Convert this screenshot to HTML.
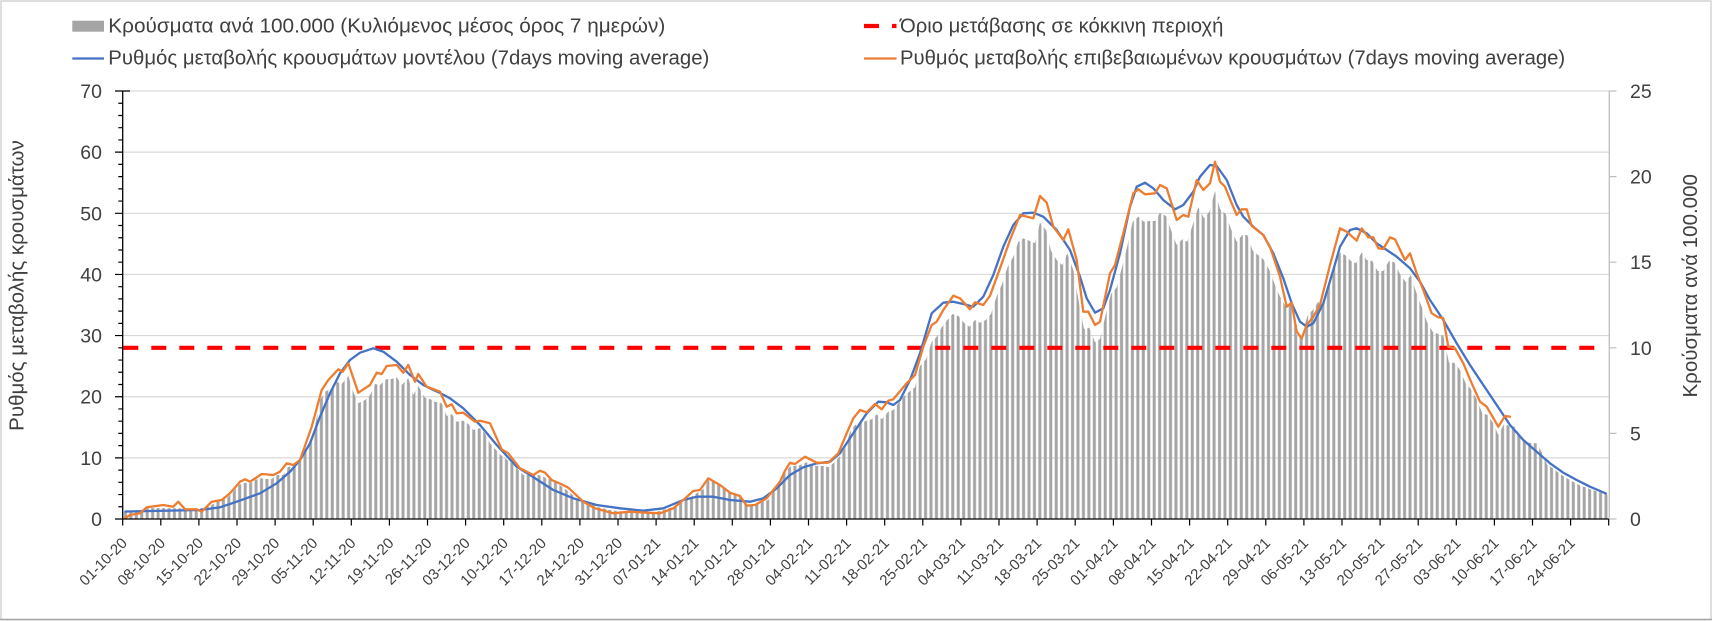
<!DOCTYPE html>
<html>
<head>
<meta charset="utf-8">
<style>
  html,body{margin:0;padding:0;background:#ffffff;}
  svg{display:block;}
  text{font-family:"Liberation Sans","DejaVu Sans",sans-serif;fill:#404040;}
</style>
</head>
<body>
<svg width="1712" height="621" viewBox="0 0 1712 621" xmlns="http://www.w3.org/2000/svg">
  <defs>
    <pattern id="bars" patternUnits="userSpaceOnUse" x="122.7" y="0" width="5.4432" height="621">
      <rect x="1.22" y="0" width="3" height="621" fill="#a5a5a5"/>
    </pattern>
  </defs>
  <rect x="0" y="0" width="1712" height="621" fill="#ffffff"/>
  <!-- chart border -->
  <rect x="1" y="1" width="1710" height="618.5" fill="none" stroke="#d4d4d4" stroke-width="1.5"/>
  <line x1="0" y1="619.5" x2="1712" y2="619.5" stroke="#a6a6a6" stroke-width="1.5"/>

  <!-- gridlines -->
  <g stroke="#d9d9d9" stroke-width="1.2">
    <line x1="122.7" y1="457.86" x2="1609.3" y2="457.86"/>
    <line x1="122.7" y1="396.72" x2="1609.3" y2="396.72"/>
    <line x1="122.7" y1="335.58" x2="1609.3" y2="335.58"/>
    <line x1="122.7" y1="274.44" x2="1609.3" y2="274.44"/>
    <line x1="122.7" y1="213.30" x2="1609.3" y2="213.30"/>
    <line x1="122.7" y1="152.16" x2="1609.3" y2="152.16"/>
    <line x1="122.7" y1="91.02" x2="1609.3" y2="91.02"/>
  </g>

  <!-- bars -->
  <polygon fill="url(#bars)" points="122.7,519 122.7,512 140,511.5 145,508 200,508.5 210,506 216.7,501.7 228.3,496.7 233.3,491.7 238.3,485 245,482.7 250,483.3 255,480 260,478.3 266.7,479 271.7,479 276.7,475 283.3,475 288.3,466.7 293.3,466.7 300,461.7 305,451.7 310,445 315,426.7 320,400 325,391.7 331.7,388.3 336.7,381.7 341.7,384 348.3,376 353.3,391.7 358.3,403.3 365,400 370,395 375,384 380,385 386.7,379 391.7,379 396.7,377.3 401.7,385 408.3,378.3 413.3,395 418.3,386 425,397.7 430,399 435,401.7 441.7,403.3 446.7,416 451.7,414 456.7,421.7 463.3,420.7 468.3,424 473.3,430 480,428.3 485,433.3 490,443.3 500.7,455 511.7,463.3 523.3,475 538.3,475 543.3,476.7 555,481.7 566.7,490 576.7,498.3 586.7,501.7 596.7,506.7 610,510 630,512.7 650,513.3 663.3,510 673.3,506.7 686.7,500 696.7,493.3 703.3,489.3 708.3,480 713.3,481.7 720,485 730,491.7 740,495 746.7,505 756.7,505 763.3,501.7 768.3,500 776.7,485 783.3,473.3 790,466.7 800,465 806.7,462.3 816.7,466 823.3,466 828.3,467.3 833.3,463.3 838.3,458.3 845,448.3 850,431.7 855,425 860,423.3 866.7,420.7 871.7,419.3 876.7,414.3 881.7,419.3 888.3,411.7 893.3,410 898.3,403.3 903.3,396.7 909.3,391.7 915,387.3 920,366 926,359.3 931.7,341.7 936.7,336.7 941.7,327.3 947.3,320 952.7,314 958.3,316 964,322.7 969.3,326.7 975,320 980,322.7 985.7,320 991,314 996.7,296 1001.7,285 1007.7,266.7 1013.3,256.7 1018.3,242 1023.3,238.3 1029.3,240.7 1035,243.3 1040,222.7 1046,230 1051,250.7 1056.7,260 1062.3,265 1067.3,253.3 1073.3,270 1078.3,299 1084,329 1089.3,327.7 1095,342.3 1100,339 1106,313.3 1111,294 1116.7,287.3 1121.7,268.3 1127.3,246 1132.7,221.7 1138.3,216.7 1144,221.7 1149.3,221 1155,221 1160,212.7 1166,216 1171,230 1176.7,245 1182.3,239.3 1187.3,241.7 1193.3,222.7 1198.3,207.3 1204,218.3 1209.3,211.7 1215,191 1220,209 1225.7,214 1231,229 1236.7,241.7 1242.3,235 1247.3,235 1252.7,250.7 1258,255 1263.3,259.3 1269.3,270 1275,285 1280,296.7 1286,306.7 1291,301.7 1296.7,335 1301.7,336.7 1307.3,316 1312.7,310 1318.3,301.7 1323.3,305 1329,286 1334.3,266.7 1340,252.3 1345,255 1350.7,260.7 1356,263.3 1361.7,252.3 1366.7,260 1372.3,261 1377.7,271 1383.3,271 1389,261 1394.3,262.3 1400,274 1405.7,282 1411,275 1416,291.7 1421.7,306.7 1427.3,322.7 1432.7,331.7 1438.3,334 1443.3,335.7 1449,362.7 1454.3,362.7 1460,370 1465.7,383.3 1471,389.3 1476.7,399.3 1482.3,413.3 1487.7,415 1493.3,423.3 1498.3,435 1504,424 1509.3,426 1515,426.7 1520.7,436.7 1526,441.7 1531.7,443.3 1536.7,443.3 1542.3,453.3 1547.3,465 1553.3,468.3 1559,473.3 1564.3,476.7 1570,480 1575.7,483.3 1581,486 1586.7,487.7 1592.3,490 1597.7,491.7 1603.3,493.3 1608,495 1608,519"/>

  <!-- threshold -->
  <line x1="123.3" y1="347.8" x2="1605.9" y2="347.8" stroke="#ff0000" stroke-width="4.2" stroke-dasharray="15 13"/>

  <!-- model line -->
  <polyline fill="none" stroke="#4472c4" stroke-width="2.3" stroke-linejoin="round" stroke-linecap="round" points="125.4,511.5 200,510 220,507.3 236.7,501.7 260,493.3 276.7,483.3 290,471.7 300,460 310,443.3 320,416.7 330,393.3 340,373.3 350,360 360,352.7 373.3,348.3 383.3,351.7 396.7,361.7 410,375 423.3,385 430,388.3 440,393 450,398.3 463.3,408.3 480,425 496.7,445 516.7,466.7 530,475 553.3,490 573.3,498.3 596.7,505 620,508.3 643.3,510.7 663.3,508.3 683.3,500 696.7,496.7 713.3,496.7 730,500 750,501.7 763.3,498.3 776.7,488.3 790,475 803.3,467.3 816.7,463.3 830,461.7 840,453.3 853.3,433.3 866.7,413.3 878.3,401.7 886.7,402.3 893.3,405 900,400 910,380 920,353.3 931.7,313.3 943.3,302.7 953.3,301.7 963.3,304 973.3,306.7 983.3,296.7 993.3,275 1003.3,246.7 1013.3,225 1023.3,213.3 1033.3,212.7 1043.3,216.7 1056.7,230 1070,250 1080,276.7 1086.7,298.3 1095,312.7 1103.3,308.3 1110,290 1120,253.3 1130,206.7 1136.7,186.7 1145,182.7 1153.3,188.3 1163.3,200 1175,209.3 1183.3,205 1193.3,191.7 1200,176.7 1210,165 1216.7,166 1226.7,180 1236.7,205 1243.3,216.7 1253.3,226.7 1263.3,235 1273.3,253.3 1283.3,278.3 1291.7,303.3 1300,321.7 1306.7,326.7 1313.3,323.3 1323.3,303.3 1333.3,270 1340,246.7 1350,230 1356.7,228.3 1366.7,233.3 1376.7,243.3 1386.7,250 1396.7,256.7 1410,268.3 1420,281.7 1430,300 1443.3,320 1456.7,343.3 1470,365 1483.3,385 1496.7,405 1510,425 1523.3,440 1536.7,451.7 1550,463.3 1563.3,472.7 1576.7,480 1590,486.7 1605.9,493.5"/>

  <!-- confirmed line -->
  <polyline fill="none" stroke="#ed7d31" stroke-width="2.3" stroke-linejoin="round" stroke-linecap="round" points="125.4,518 130,515 140,513.3 146.7,507.3 163.3,505 173.3,506.7 178.3,501.7 185,509.3 196.7,509.3 201.7,511.7 211.7,501.7 221.7,500 230,493.3 240,481.7 245,479.3 250,481.7 261.7,474 273.3,475 280,471.7 286.7,463.3 293.3,465 300,460 311.7,426.7 321.7,390 328.3,380 338.3,369.3 342.7,371.7 348.3,363.3 358.3,392.7 370,385 376.7,372.7 381.7,374 386.7,366 396.7,365 403.3,372.7 408.3,365 415,381.7 418.3,374 426.7,386.7 433,389 440,391.7 446.7,406.7 451.7,404.3 456.7,413.3 463.3,412.7 475,421.7 480,420.7 490,423.3 501.7,449.3 508.3,453.3 520,468.3 533.3,475 540,470.7 545,472.7 551.7,480 561.7,484.3 568.3,487.7 583.3,501.7 595,508.3 613.3,513.3 630,511.7 646.7,512.7 660,513.3 673.3,508.3 683.3,500 693.3,491 700,490 708.3,478.3 720,485 730,492.7 740,496 746.7,505.7 755,505 766.7,498.3 780,481.7 785,470.7 790,462.7 795,464 805,456.7 816.7,462.7 828.3,462.7 838.3,453.3 846.7,433.3 853.3,418.3 860,410 866.7,412.3 875,404 881.7,409.3 888.3,400.7 893.3,399.3 906.7,383.3 915,375 923.3,346.7 931.7,325 936.7,321.7 943.3,310 953.3,295.7 960,298.3 970,309.3 975,302.3 983.3,305 990,295.7 1000,268.3 1010,240 1020,215 1033.3,218.3 1040,196 1046.7,202.7 1053.3,226.7 1063.3,240 1068.3,229.3 1076.7,260 1083.3,311.7 1088.3,311.7 1095,325 1100,321.7 1110,273.3 1115,265 1123.3,233.3 1133.3,193.3 1138.3,189.3 1145,194.3 1155,193.3 1160,185 1166.7,188.3 1176.7,220 1183.3,215 1188.3,216.7 1196.7,180 1203.3,190 1210,183.3 1215,161.7 1220,181.7 1225,186.7 1231.7,203.3 1236.7,215 1241.7,209.3 1246.7,209.3 1251.7,226 1263.3,235 1270,246.7 1280,276.7 1286.7,306.7 1291.7,302.7 1296.7,331.7 1301.7,338.3 1306.7,325 1313.3,316.7 1320,305 1330,265 1340,228.3 1346.7,231.7 1356.7,240.7 1361.7,228.3 1368.3,237.3 1373.3,237.3 1378.3,248.3 1383.3,249 1390,237.3 1395,239.3 1405,260 1410,253.3 1416.7,273.3 1423.3,290 1431.7,313.3 1438.3,317.3 1443.3,318.3 1448.3,346.7 1455,348.3 1463.3,363.3 1471.7,383.3 1480,401.7 1486.7,406.7 1498.3,426.7 1505,416 1510,416.7"/>

  <!-- axes -->
  <line x1="122.7" y1="91" x2="122.7" y2="519" stroke="#000" stroke-width="1.3"/>
  <line x1="122.7" y1="519" x2="1609.3" y2="519" stroke="#000" stroke-width="1.3"/>
  <line x1="1609.3" y1="91" x2="1609.3" y2="519" stroke="#bfbfbf" stroke-width="1.3"/>
  <path stroke="#000" stroke-width="1.2" fill="none" d="M115 519H122.7 M118.3 506.77H122.7 M118.3 494.54H122.7 M118.3 482.32H122.7 M118.3 470.09H122.7 M115 457.86H122.7 M118.3 445.63H122.7 M118.3 433.40H122.7 M118.3 421.18H122.7 M118.3 408.95H122.7 M115 396.72H122.7 M118.3 384.49H122.7 M118.3 372.26H122.7 M118.3 360.04H122.7 M118.3 347.81H122.7 M115 335.58H122.7 M118.3 323.35H122.7 M118.3 311.12H122.7 M118.3 298.90H122.7 M118.3 286.67H122.7 M115 274.44H122.7 M118.3 262.21H122.7 M118.3 249.98H122.7 M118.3 237.76H122.7 M118.3 225.53H122.7 M115 213.30H122.7 M118.3 201.07H122.7 M118.3 188.84H122.7 M118.3 176.62H122.7 M118.3 164.39H122.7 M115 152.16H122.7 M118.3 139.93H122.7 M118.3 127.70H122.7 M118.3 115.48H122.7 M118.3 103.25H122.7 M115 91.02H130"/>
  <path stroke="#000" stroke-width="1.2" fill="none" d="M122.7 519V525.5 M160.8 519V525.5 M198.9 519V525.5 M237.0 519V525.5 M275.1 519V525.5 M313.2 519V525.5 M351.3 519V525.5 M389.4 519V525.5 M427.5 519V525.5 M465.6 519V525.5 M503.7 519V525.5 M541.8 519V525.5 M579.9 519V525.5 M618.0 519V525.5 M656.1 519V525.5 M694.2 519V525.5 M732.3 519V525.5 M770.4 519V525.5 M808.5 519V525.5 M846.6 519V525.5 M884.7 519V525.5 M922.8 519V525.5 M960.9 519V525.5 M999.0 519V525.5 M1037.1 519V525.5 M1075.2 519V525.5 M1113.4 519V525.5 M1151.5 519V525.5 M1189.6 519V525.5 M1227.7 519V525.5 M1265.8 519V525.5 M1303.9 519V525.5 M1342.0 519V525.5 M1380.1 519V525.5 M1418.2 519V525.5 M1456.3 519V525.5 M1494.4 519V525.5 M1532.5 519V525.5 M1570.6 519V525.5 M1608.7 519V525.5"/>
  <path stroke="#bfbfbf" stroke-width="1.2" fill="none" d="M1609.3 519H1616.5 M1609.3 433.4H1616.5 M1609.3 347.8H1616.5 M1609.3 262.2H1616.5 M1609.3 176.6H1616.5 M1609.3 91H1616.5"/>

  <!-- left tick labels -->
  <g font-size="19.5" text-anchor="end">
    <text x="102" y="526">0</text>
    <text x="102" y="464.9">10</text>
    <text x="102" y="403.7">20</text>
    <text x="102" y="342.6">30</text>
    <text x="102" y="281.4">40</text>
    <text x="102" y="220.3">50</text>
    <text x="102" y="159.2">60</text>
    <text x="102" y="98">70</text>
  </g>
  <!-- right tick labels -->
  <g font-size="19.5" text-anchor="start">
    <text x="1630" y="526">0</text>
    <text x="1630" y="440.4">5</text>
    <text x="1630" y="354.8">10</text>
    <text x="1630" y="269.2">15</text>
    <text x="1630" y="183.6">20</text>
    <text x="1630" y="98">25</text>
  </g>

  <!-- axis titles -->
  <text font-size="20.5" text-anchor="middle" transform="rotate(-90 23.5 285.5)" x="23.5" y="285.5">Ρυθμός μεταβολής κρουσμάτων</text>
  <text font-size="20.5" text-anchor="middle" transform="rotate(-90 1697 285.8)" x="1697" y="285.8">Κρούσματα ανά 100.000</text>

  <!-- x labels -->
  <g font-size="15" text-anchor="end">
    <text x="128.0" y="544" transform="rotate(-45 128.0 544)">01-10-20</text>
    <text x="166.1" y="544" transform="rotate(-45 166.1 544)">08-10-20</text>
    <text x="204.2" y="544" transform="rotate(-45 204.2 544)">15-10-20</text>
    <text x="242.3" y="544" transform="rotate(-45 242.3 544)">22-10-20</text>
    <text x="280.4" y="544" transform="rotate(-45 280.4 544)">29-10-20</text>
    <text x="318.5" y="544" transform="rotate(-45 318.5 544)">05-11-20</text>
    <text x="356.6" y="544" transform="rotate(-45 356.6 544)">12-11-20</text>
    <text x="394.7" y="544" transform="rotate(-45 394.7 544)">19-11-20</text>
    <text x="432.8" y="544" transform="rotate(-45 432.8 544)">26-11-20</text>
    <text x="470.9" y="544" transform="rotate(-45 470.9 544)">03-12-20</text>
    <text x="509.0" y="544" transform="rotate(-45 509.0 544)">10-12-20</text>
    <text x="547.1" y="544" transform="rotate(-45 547.1 544)">17-12-20</text>
    <text x="585.2" y="544" transform="rotate(-45 585.2 544)">24-12-20</text>
    <text x="623.3" y="544" transform="rotate(-45 623.3 544)">31-12-20</text>
    <text x="661.4" y="544" transform="rotate(-45 661.4 544)">07-01-21</text>
    <text x="699.5" y="544" transform="rotate(-45 699.5 544)">14-01-21</text>
    <text x="737.6" y="544" transform="rotate(-45 737.6 544)">21-01-21</text>
    <text x="775.7" y="544" transform="rotate(-45 775.7 544)">28-01-21</text>
    <text x="813.8" y="544" transform="rotate(-45 813.8 544)">04-02-21</text>
    <text x="851.9" y="544" transform="rotate(-45 851.9 544)">11-02-21</text>
    <text x="890.0" y="544" transform="rotate(-45 890.0 544)">18-02-21</text>
    <text x="928.1" y="544" transform="rotate(-45 928.1 544)">25-02-21</text>
    <text x="966.2" y="544" transform="rotate(-45 966.2 544)">04-03-21</text>
    <text x="1004.3" y="544" transform="rotate(-45 1004.3 544)">11-03-21</text>
    <text x="1042.4" y="544" transform="rotate(-45 1042.4 544)">18-03-21</text>
    <text x="1080.5" y="544" transform="rotate(-45 1080.5 544)">25-03-21</text>
    <text x="1118.7" y="544" transform="rotate(-45 1118.7 544)">01-04-21</text>
    <text x="1156.8" y="544" transform="rotate(-45 1156.8 544)">08-04-21</text>
    <text x="1194.9" y="544" transform="rotate(-45 1194.9 544)">15-04-21</text>
    <text x="1233.0" y="544" transform="rotate(-45 1233.0 544)">22-04-21</text>
    <text x="1271.1" y="544" transform="rotate(-45 1271.1 544)">29-04-21</text>
    <text x="1309.2" y="544" transform="rotate(-45 1309.2 544)">06-05-21</text>
    <text x="1347.3" y="544" transform="rotate(-45 1347.3 544)">13-05-21</text>
    <text x="1385.4" y="544" transform="rotate(-45 1385.4 544)">20-05-21</text>
    <text x="1423.5" y="544" transform="rotate(-45 1423.5 544)">27-05-21</text>
    <text x="1461.6" y="544" transform="rotate(-45 1461.6 544)">03-06-21</text>
    <text x="1499.7" y="544" transform="rotate(-45 1499.7 544)">10-06-21</text>
    <text x="1537.8" y="544" transform="rotate(-45 1537.8 544)">17-06-21</text>
    <text x="1575.9" y="544" transform="rotate(-45 1575.9 544)">24-06-21</text>
  </g>

  <!-- legend -->
  <rect x="72.3" y="20.7" width="31.7" height="11" fill="#a5a5a5"/>
  <text x="108.3" y="32.3" font-size="20.3" textLength="557" lengthAdjust="spacingAndGlyphs">Κρούσματα ανά 100.000 (Κυλιόμενος μέσος όρος 7 ημερών)</text>
  <line x1="72.3" y1="58.5" x2="104" y2="58.5" stroke="#4472c4" stroke-width="2.3"/>
  <text x="108.3" y="64.3" font-size="20.3" textLength="601" lengthAdjust="spacingAndGlyphs">Ρυθμός μεταβολής κρουσμάτων μοντέλου (7days moving average)</text>
  <line x1="864" y1="26" x2="896.5" y2="26" stroke="#ff0000" stroke-width="4.2" stroke-dasharray="15 13"/>
  <text x="900" y="32.3" font-size="20.3">Όριο μετάβασης σε κόκκινη περιοχή</text>
  <line x1="864" y1="58.5" x2="896.5" y2="58.5" stroke="#ed7d31" stroke-width="2.3"/>
  <text x="900" y="64.3" font-size="20.3">Ρυθμός μεταβολής επιβεβαιωμένων κρουσμάτων (7days moving average)</text>
</svg>
</body>
</html>
